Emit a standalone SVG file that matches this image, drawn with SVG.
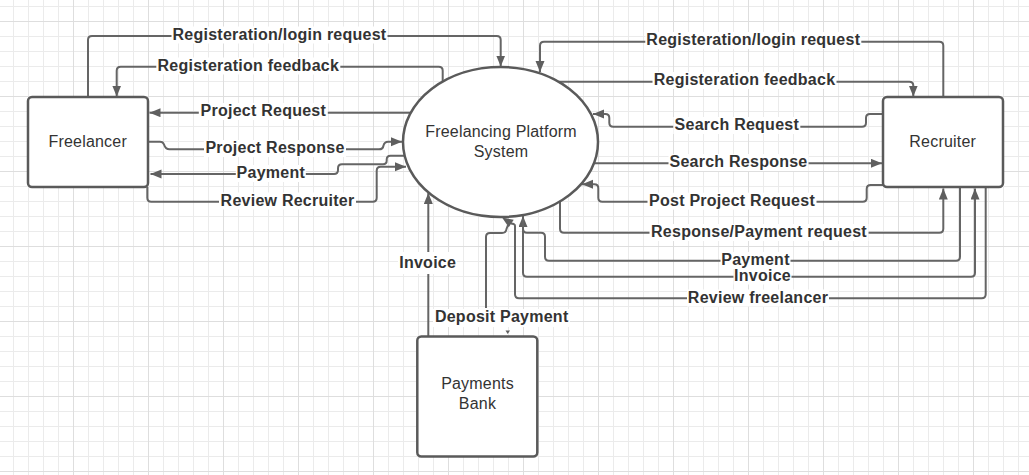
<svg xmlns="http://www.w3.org/2000/svg" width="1029" height="475" viewBox="0 0 1029 475">
<defs>
<pattern id="grid" patternUnits="userSpaceOnUse" x="73" y="21" width="75" height="75">
<path d="M15.5 0V75M30.5 0V75M45.5 0V75M60.5 0V75M0 15.5H75M0 30.5H75M0 45.5H75M0 60.5H75" stroke="#ebebeb" stroke-width="1" fill="none"/>
<path d="M0.5 0V75M0 0.5H75" stroke="#dedede" stroke-width="1" fill="none"/>
</pattern>
<marker id="ah" markerUnits="userSpaceOnUse" markerWidth="12" markerHeight="10" refX="11" refY="4.5" orient="auto" viewBox="0 0 12 10">
<path d="M0 0L11 4.5L0 9Z" fill="#5f5f5f"/>
</marker>
<style>
.c{fill:none;stroke:#656565;stroke-width:2;}
.a{marker-end:url(#ah);}
.node{fill:#fff;stroke:#5a5a5a;stroke-width:2.5;}
.nt{font-family:"Liberation Sans",Arial,sans-serif;font-size:16px;fill:#333;text-anchor:middle;letter-spacing:0.2px;}
.lt{font-family:"Liberation Sans",Arial,sans-serif;font-size:16px;font-weight:bold;fill:#333;text-anchor:middle;letter-spacing:0.25px;}
.bg{fill:#fff;}
.ahd{fill:#5f5f5f;}
</style>
</defs>
<rect width="1029" height="475" fill="#fff"/>
<rect width="1029" height="475" fill="url(#grid)"/>

<g id="connectors">
<path class="c a" d="M88 97V40Q88 36 92 36H496.7Q500.7 36 500.7 40V66.5"/>
<path class="c a" d="M442.7 81.6V70.7Q442.7 66.7 438.7 66.7H120.7Q116.7 66.7 116.7 70.7V96.5"/>
<path class="c a" d="M410.8 112.7H149.5"/>
<path class="c a" d="M148 141.7H160Q163 141.7 164 144.5Q165.5 149.3 169.5 149.3H379Q383 149.3 383.5 145.5Q384.5 141.7 388 141.7H402"/>
<polygon class="ahd" points="137,137.5 147.5,141.7 137,146"/>
<path class="c a" d="M404.5 155.7H390.5Q386.7 155.7 386.7 159.5V160.5Q386.7 164.3 383 164.3H342Q338 164.3 338 168.3V170Q338 174 334 174H150.5"/>
<path class="c a" d="M147.3 187V197.7Q147.3 201.7 151.3 201.7H372.7Q376.7 201.7 376.7 197.7V170.7Q376.7 166.7 380.7 166.7H406"/>

<path class="c a" d="M943.3 97V45.7Q943.3 41.7 939.3 41.7H544Q540 41.7 540 45.7V72"/>
<path class="c a" d="M558.5 81.7H909.3Q913.3 81.7 913.3 85.7V96.5"/>
<path class="c a" d="M883 114H870Q866 114 866 118V122.7Q866 126.7 862 126.7H613.3Q609.3 126.7 609.3 122.7V118Q609.3 114 605.3 114H593"/>
<path class="c a" d="M594 163.3H882"/>
<path class="c a" d="M883 185H870.7Q866.7 185 866.7 189V197.7Q866.7 201.7 862.7 201.7H602.3Q598.3 201.7 598.3 197.7V188.3Q598.3 184.3 594.3 184.3H582"/>
<path class="c a" d="M560 201.4V228.7Q560 232.7 564 232.7H939.3Q943.3 232.7 943.3 228.7V188.5"/>
<path class="c a" d="M960 187V256.7Q960 260.7 956 260.7H549Q545 260.7 545 256.7V236.7Q545 232.7 541 232.7H527Q523 232.7 523 228.7V216"/>
<path class="c a" d="M523 219V272.7Q523 276.7 527 276.7H971Q975 276.7 975 272.7V188.5"/>
<path class="c" d="M985.7 187V294.3Q985.7 298.3 981.7 298.3H519Q515 298.3 515 294.3V226Q515 223.5 511 223.5"/>
<path class="c" d="M486 308V237Q486 233 490 233H502Q506 233 506.5 229L508 225"/>
<polygon class="ahd" points="502,217.5 513.7,219.7 508.8,227.3"/>
<path class="c a" d="M428.3 336V193"/>
<polygon class="ahd" points="505.5,330.5 510,330.5 507.7,334"/>

<rect class="bg" x="171.5" y="26.5" width="216" height="17"/>
<text class="lt" x="279.5" y="39.5">Registeration/login request</text>
<rect class="bg" x="156.3" y="57.5" width="184" height="17"/>
<text class="lt" x="248.3" y="70.5">Registeration feedback</text>
<rect class="bg" x="198.8" y="103" width="129" height="17"/>
<text class="lt" x="263.3" y="116">Project Request</text>
<rect class="bg" x="204" y="140" width="142" height="17"/>
<text class="lt" x="275" y="153">Project Response</text>
<rect class="bg" x="235.8" y="165" width="70" height="17"/>
<text class="lt" x="270.8" y="178">Payment</text>
<rect class="bg" x="219" y="192.5" width="137" height="17"/>
<text class="lt" x="287.5" y="205.5">Review Recruiter</text>

<rect class="bg" x="645.3" y="32" width="216" height="17"/>
<text class="lt" x="753.3" y="45">Registeration/login request</text>
<rect class="bg" x="652.5" y="72" width="184" height="17"/>
<text class="lt" x="744.5" y="85">Registeration feedback</text>
<rect class="bg" x="673.3" y="117" width="127" height="17"/>
<text class="lt" x="736.8" y="130">Search Request</text>
<rect class="bg" x="668.5" y="154" width="140" height="17"/>
<text class="lt" x="738.5" y="167">Search Response</text>
<rect class="bg" x="647.5" y="192.7" width="169" height="17"/>
<text class="lt" x="732" y="205.7">Post Project Request</text>
<rect class="bg" x="649.5" y="224" width="219" height="17"/>
<text class="lt" x="759" y="237">Response/Payment request</text>
<rect class="bg" x="720.5" y="252" width="70" height="17"/>
<text class="lt" x="755.5" y="265">Payment</text>
<rect class="bg" x="733.5" y="268" width="58" height="16.5"/>
<text class="lt" x="762.5" y="280.5">Invoice</text>
<rect class="bg" x="687" y="289.5" width="142" height="17"/>
<text class="lt" x="758" y="302.5">Review freelancer</text>
<rect class="bg" x="398" y="252" width="59" height="22"/>
<text class="lt" x="427.7" y="268">Invoice</text>
<rect class="bg" x="433" y="309" width="137" height="18"/>
<text class="lt" x="501.7" y="322.3">Deposit Payment</text>
</g>

<g id="freelancer">
<rect class="node" x="28" y="97" width="120" height="90" rx="4"/>
<text class="nt" x="87.7" y="146.7">Freelancer</text>
</g>
<g id="platform">
<ellipse class="node" cx="500.5" cy="142" rx="97.5" ry="75"/>
<text class="nt" x="501" y="137.3">Freelancing Platform</text>
<text class="nt" x="501" y="157.3">System</text>
</g>
<g id="recruiter">
<rect class="node" x="883" y="97" width="120" height="90" rx="4"/>
<text class="nt" x="942.7" y="146.7">Recruiter</text>
</g>
<g id="bank">
<rect class="node" x="417.3" y="336.5" width="120" height="120" rx="4"/>
<text class="nt" x="477.5" y="389.3">Payments</text>
<text class="nt" x="477.5" y="409">Bank</text>
</g>
</svg>
